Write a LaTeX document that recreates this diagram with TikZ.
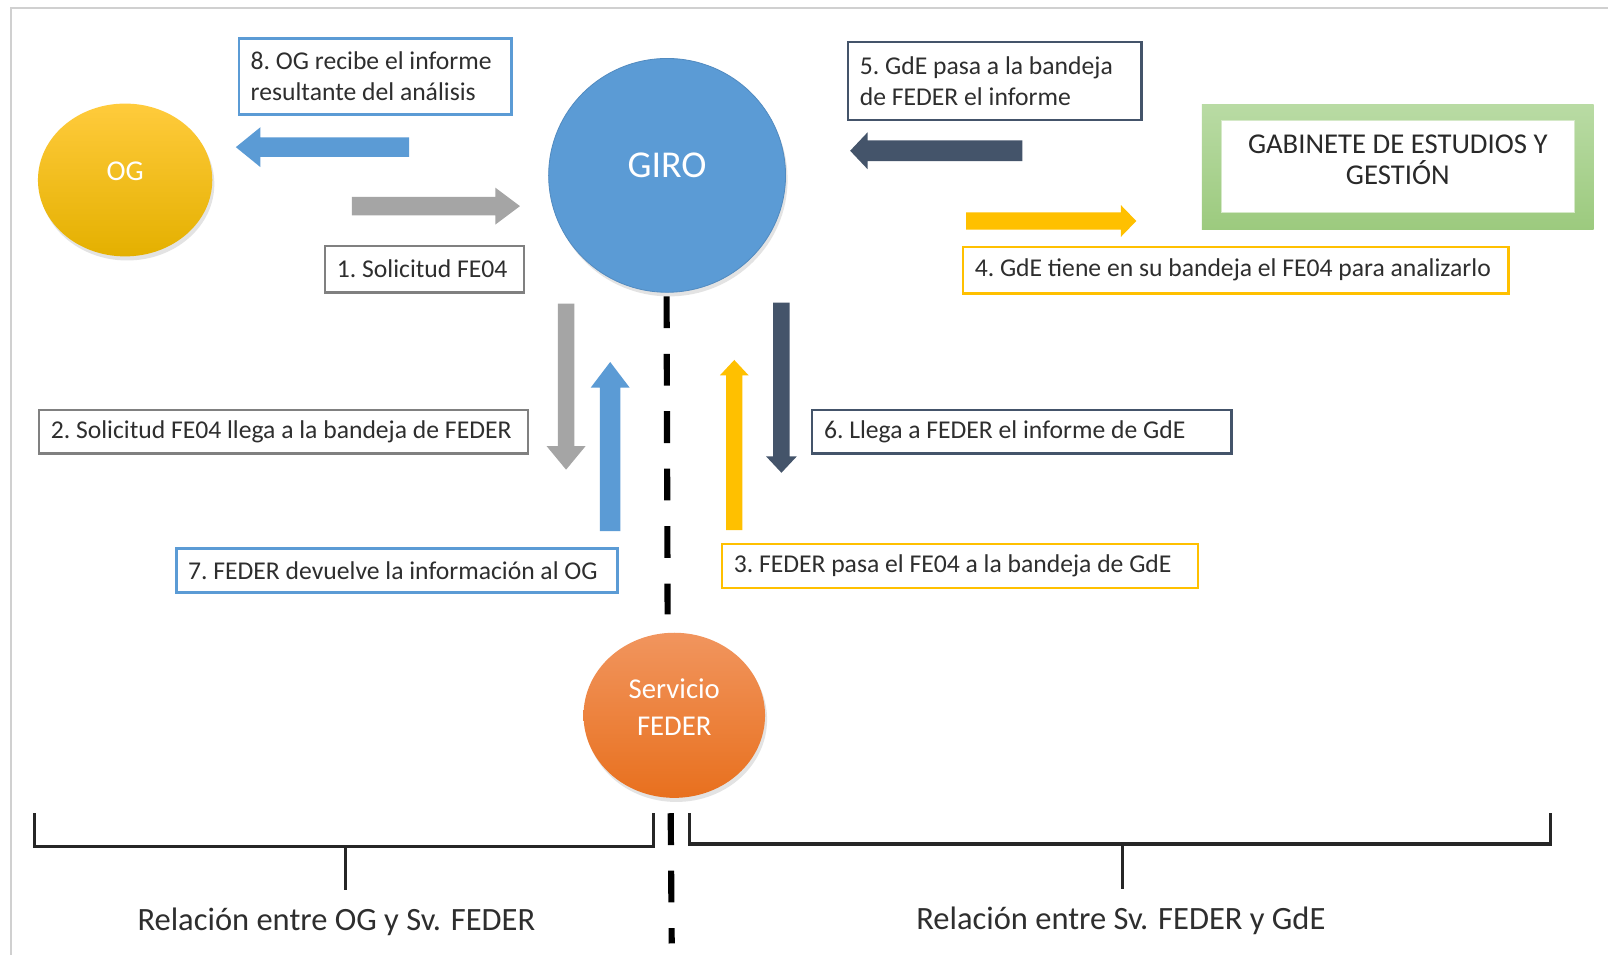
\documentclass[tikz,border=0pt]{standalone}
\usepackage{fontspec}
\setmainfont{Carlito}
\usetikzlibrary{shapes.geometric,shadows}
\definecolor{cblue}{HTML}{5B9BD5}
\definecolor{cgray}{HTML}{A5A5A5}
\definecolor{cgrayb}{HTML}{808080}
\definecolor{cnavy}{HTML}{44546A}
\definecolor{cyellow}{HTML}{FFC000}
\definecolor{ctext}{HTML}{2E2E2E}
\definecolor{cframe}{HTML}{D0D0D0}
\definecolor{ogtop}{HTML}{FFCB3C}
\definecolor{ogbot}{HTML}{E4B000}
\definecolor{fetop}{HTML}{F1955E}
\definecolor{febot}{HTML}{E8701E}
\definecolor{grtop}{HTML}{B9DBA4}
\definecolor{grbot}{HTML}{9CCA7E}
\begin{document}
\begin{tikzpicture}[x=1pt,y=-1pt,
  txt/.style={text=ctext,font=\fontsize{25}{30}\selectfont\frenchspacing},
  lbox/.style={txt,draw,line width=2.5pt,fill=white,inner xsep=11.5pt,inner ysep=0pt,align=flush left},
  circtxt/.style={text=white,align=center},
  bubble/.style={ellipse,inner sep=0pt,draw=none,drop shadow={opacity=0.22,shadow xshift=2pt,shadow yshift=-4pt}},
  bracket/.style={line width=3pt,black!85},
  divider/.style={line width=6pt,black,dash pattern=on 31pt off 25pt}
]
\useasboundingbox (0,0) rectangle (1568,931);
\fill[white] (0,0) rectangle (1568,931);
% page frame
\draw[cframe,line width=2pt] (11,931) -- (11,8) -- (1568,8);

% circles
\node[bubble,minimum width=170pt,minimum height=149pt,top color=ogtop,bottom color=ogbot] (og) at (122,175.5) {};
\node[circtxt,font=\fontsize{28}{34}\selectfont] at ([yshift=8pt]og.center) {OG};

\node[bubble,minimum width=231pt,minimum height=228pt,fill=cblue,draw=cblue!90!black,line width=0.8pt] (giro) at (650.5,171) {};
\node[circtxt,font=\fontsize{37}{40}\selectfont] at ([yshift=10pt]giro.center) {GIRO};

\node[bubble,minimum width=177pt,minimum height=161pt,top color=fetop,bottom color=febot] (feder) at (657.5,697.5) {};
\node[circtxt,font=\fontsize{28}{37}\selectfont] at ([yshift=8pt]feder.center) {Servicio\\FEDER};

% GdE box
\node[minimum width=382pt,minimum height=122pt,inner sep=0pt,top color=grtop,bottom color=grbot] (gdeo) at (1363,163) {};
\node[minimum width=344pt,minimum height=90pt,inner sep=0pt,fill=white,draw=grtop!60!white,line width=0.8pt] (gde) at (1363,162) {};
\node[text=ctext!90!black,font=\fontsize{28}{30}\selectfont,align=center] at (1363,156) {GABINETE DE ESTUDIOS Y\\GESTIÓN};

% label boxes
\node[lbox,draw=cblue,minimum width=266pt,minimum height=74pt,text width=243pt] (b8) at (366,74.5) {8. OG recibe el informe\\resultante del análisis};
\node[lbox,draw=cgrayb,minimum width=194pt,minimum height=45pt,text width=171pt] (b1) at (414,262.5) {1. Solicitud FE04};
\node[lbox,draw=cnavy,minimum width=286pt,minimum height=76pt,text width=263pt] (b5) at (970,79) {5. GdE pasa a la bandeja\\de FEDER el informe};
\node[lbox,draw=cyellow,minimum width=532pt,minimum height=45pt,text width=509pt] (b4) at (1205,263.5) {4. GdE tiene en su bandeja el FE04 para analizarlo};
\node[lbox,draw=cgrayb,minimum width=477pt,minimum height=42pt,text width=454pt] (b2) at (276.5,421) {2. Solicitud FE04 llega a la bandeja de FEDER};
\node[lbox,draw=cblue,minimum width=430pt,minimum height=43pt,text width=407pt] (b7) at (387,556.5) {7. FEDER devuelve la información al OG};
\node[lbox,draw=cnavy,minimum width=409pt,minimum height=42pt,text width=386pt] (b6) at (996.5,421) {6. Llega a FEDER el informe de GdE};
\node[lbox,draw=cyellow,minimum width=464pt,minimum height=43pt,text width=441pt] (b3) at (936,552) {3. FEDER pasa el FE04 a la bandeja de GdE};

% block arrows
\fill[cblue] (399,134) -- (254,134) -- (254,124) -- (230,143.5) -- (254,163) -- (254,153) -- (399,153) -- cycle;
\fill[cgray] (343,192) -- (483,192) -- (483,183) -- (507,201) -- (483,219) -- (483,210) -- (343,210) -- cycle;
\fill[cnavy] (997,137) -- (846,137) -- (846,129) -- (829,147) -- (846,165) -- (846,157) -- (997,157) -- cycle;
\fill[cyellow] (942,207) -- (1093,207) -- (1093,200) -- (1108,215.5) -- (1093,231) -- (1093,224) -- (942,224) -- cycle;
\fill[cgray] (544,296) -- (544,435) -- (533,435) -- (552,458) -- (571,435) -- (560,435) -- (560,296) -- cycle;
\fill[cblue] (585,518) -- (585,378) -- (576,378) -- (595,353) -- (614,378) -- (605,378) -- (605,518) -- cycle;
\fill[cyellow] (708,517) -- (708,366) -- (702,366) -- (716,351) -- (730,366) -- (724,366) -- (724,517) -- cycle;
\fill[cnavy] (754,295) -- (754,445) -- (747,445) -- (762,461) -- (777,445) -- (770,445) -- (770,295) -- cycle;

% dividing dashed line
\coordinate (d1) at (650,289);
\coordinate (d2) at (651,599);
\coordinate (d3) at (654,793);
\coordinate (d4) at (655,920);
\draw[divider] (d1) -- (d2);
\draw[divider] (d3) -- (d4);

% brackets
\draw[bracket] (34,793) -- (34,825) -- (637,825) -- (637,793);
\draw[bracket] (337,825) -- (337,868);
\draw[bracket] (672,793) -- (672,823) -- (1512,823) -- (1512,793);
\draw[bracket] (1095,823) -- (1095,867);

\node[text=ctext,font=\fontsize{31.7}{36}\selectfont] (l1) at (328,899) {Relación entre OG y Sv. FEDER};
\node[text=ctext,font=\fontsize{31.7}{36}\selectfont] (l2) at (1093,898) {Relación entre Sv. FEDER y GdE};
\end{tikzpicture}
\end{document}
